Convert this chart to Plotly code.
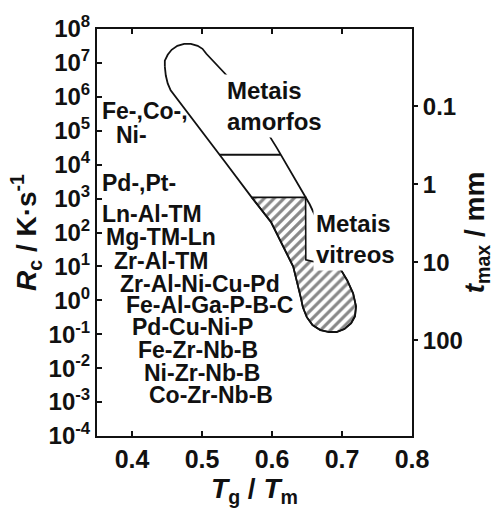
import plotly.graph_objects as go

# Glass-forming band in (Tg/Tm, log10 Rc) space, traced clockwise from the upper lobe
band_tg_tm = [0.4469, 0.4469, 0.4510, 0.4566, 0.4648, 0.4745, 0.4841, 0.4938,
              0.5007, 0.5062, 0.5448, 0.5779, 0.6069, 0.6538, 0.6759, 0.6966,
              0.7076, 0.7159, 0.7200, 0.7186, 0.7131, 0.7034, 0.6924, 0.6814,
              0.6690, 0.6579, 0.6497, 0.6441, 0.6414, 0.6359, 0.6303, 0.5986,
              0.5710, 0.5338, 0.4552, 0.4510, 0.4483, 0.4469]
band_log_rc = [6.891, 7.066, 7.241, 7.387, 7.504, 7.562, 7.562, 7.504,
               7.416, 7.270, 6.423, 5.460, 4.496, 2.832, 1.869, 0.964,
               0.584, 0.204, -0.175, -0.467, -0.672, -0.847, -0.934, -0.934,
               -0.876, -0.730, -0.496, -0.204, 0.058, 0.555, 0.993, 2.307,
               3.036, 4.058, 6.190, 6.394, 6.628, 6.891]

# Bulk metallic glass part of the band (hatched)
bulk_tg_tm = [0.5710, 0.6480, 0.6483, 0.6966, 0.7076, 0.7159, 0.7200, 0.7186,
              0.7131, 0.7034, 0.6924, 0.6814, 0.6690, 0.6579, 0.6497, 0.6441,
              0.6414, 0.6359, 0.6303, 0.5986, 0.5710]
bulk_log_rc = [3.036, 3.036, 1.197, 0.964, 0.584, 0.204, -0.175, -0.467,
               -0.672, -0.847, -0.934, -0.934, -0.876, -0.730, -0.496, -0.204,
               0.058, 0.555, 0.993, 2.307, 3.036]

# Upper limit of the amorphous-metal zone
amorph_tg_tm = [0.5252, 0.6124]
amorph_log_rc = [4.292, 4.292]

# Alloy families and their typical critical cooling rates
alloy_names = ["Fe-,Co-,", "Ni-", "Pd-,Pt-", "Ln-Al-TM", "Mg-TM-Ln", "Zr-Al-TM",
               "Zr-Al-Ni-Cu-Pd", "Fe-Al-Ga-P-B-C", "Pd-Cu-Ni-P", "Fe-Zr-Nb-B",
               "Ni-Zr-Nb-B", "Co-Zr-Nb-B"]
alloy_tg_tm = [0.3545, 0.3738, 0.3545, 0.3545, 0.3600, 0.3710, 0.3793,
               0.3890, 0.3972, 0.4055, 0.4138, 0.4221]
alloy_log_rc = [5.577, 4.876, 3.474, 2.540, 1.869, 1.168, 0.496, -0.146,
                -0.788, -1.460, -2.131, -2.803]

# Axis ticks
rc_tick_exps = [-4, -3, -2, -1, 0, 1, 2, 3, 4, 5, 6, 7, 8]
tmax_ticks = [0.1, 1, 10, 100]
tmax_labels = ["0.1", "1", "10", "100"]
tg_ticks = [0.4, 0.5, 0.6, 0.7, 0.8]
tg_labels = ["0.4", "0.5", "0.6", "0.7", "0.8"]

FONT = "Liberation Sans, Arial, sans-serif"
INK = "#111111"

fig = go.Figure()

fig.add_trace(go.Scatter(
    x=bulk_tg_tm, y=[10 ** v for v in bulk_log_rc],
    mode="lines", fill="toself",
    fillcolor="white",
    fillpattern=dict(shape="/", size=7, solidity=0.45,
                     fgcolor=INK, bgcolor="white"),
    line=dict(color=INK, width=1.6),
    hoverinfo="skip", showlegend=False,
))

fig.add_trace(go.Scatter(
    x=band_tg_tm, y=[10 ** v for v in band_log_rc],
    mode="lines", line=dict(color=INK, width=1.8),
    hoverinfo="skip", showlegend=False,
))

fig.add_trace(go.Scatter(
    x=amorph_tg_tm, y=[10 ** v for v in amorph_log_rc],
    mode="lines", line=dict(color=INK, width=1.8),
    hoverinfo="skip", showlegend=False,
))

# Companion axis for the maximum casting thickness
fig.add_trace(go.Scatter(x=[], y=[], yaxis="y2", mode="lines",
                         hoverinfo="skip", showlegend=False))

annotations = []
for name, xv, yv in zip(alloy_names, alloy_tg_tm, alloy_log_rc):
    annotations.append(dict(
        x=xv, y=yv, xref="x", yref="y", text=name, showarrow=False,
        xanchor="left", yanchor="middle",
        font=dict(family=FONT, size=23, color=INK, weight="bold"),
    ))

annotations.append(dict(
    x=0.531, y=5.73, xref="x", yref="y", text="Metais<br>amorfos",
    showarrow=False, xanchor="left", yanchor="middle", align="left",
    bgcolor="white", borderpad=2,
    font=dict(family=FONT, size=24, color=INK, weight="bold"),
))
annotations.append(dict(
    x=0.658, y=1.80, xref="x", yref="y", text="Metais<br>vitreos",
    showarrow=False, xanchor="left", yanchor="middle", align="left",
    bgcolor="white", borderpad=2,
    font=dict(family=FONT, size=24, color=INK, weight="bold"),
))

tick_font = dict(family=FONT, size=24, color=INK, weight="bold")
title_font = dict(family=FONT, size=28, color=INK, weight="bold")

fig.update_layout(
    width=496, height=511,
    margin=dict(l=97, r=74, t=25, b=75),
    paper_bgcolor="white", plot_bgcolor="white",
    showlegend=False,
    annotations=annotations,
    xaxis=dict(
        range=[0.35, 0.8], tickvals=tg_ticks, ticktext=tg_labels,
        ticks="inside", ticklen=5, tickwidth=1.5, tickcolor=INK,
        showline=True, linecolor=INK, linewidth=2, mirror="ticks",
        showgrid=False, zeroline=False,
        tickfont=dict(family=FONT, size=25, color=INK, weight="bold"),
        title=dict(text="<i>T</i><sub>g</sub> / <i>T</i><sub>m</sub>",
                   font=title_font, standoff=6),
    ),
    yaxis=dict(
        type="log", range=[-4, 8],
        tickvals=[10 ** k for k in rc_tick_exps],
        ticktext=[f"10<sup>{k}</sup>" for k in rc_tick_exps],
        ticks="inside", ticklen=5, tickwidth=1.5, tickcolor=INK,
        showline=True, linecolor=INK, linewidth=2, mirror=True,
        showgrid=False, zeroline=False,
        tickfont=tick_font,
        title=dict(text="<i>R</i><sub>c</sub> / K·s<sup>-1</sup>",
                   font=title_font, standoff=4),
    ),
    yaxis2=dict(
        type="log", range=[3.23, -1.99], overlaying="y", side="right",
        tickvals=tmax_ticks, ticktext=tmax_labels,
        ticks="outside", ticklen=5, tickwidth=1.5, tickcolor=INK,
        showline=False, showgrid=False, zeroline=False,
        tickfont=tick_font,
        title=dict(text="<i>t</i><sub>max</sub> / mm",
                   font=title_font, standoff=2),
    ),
)

fig.write_html("out.html")
